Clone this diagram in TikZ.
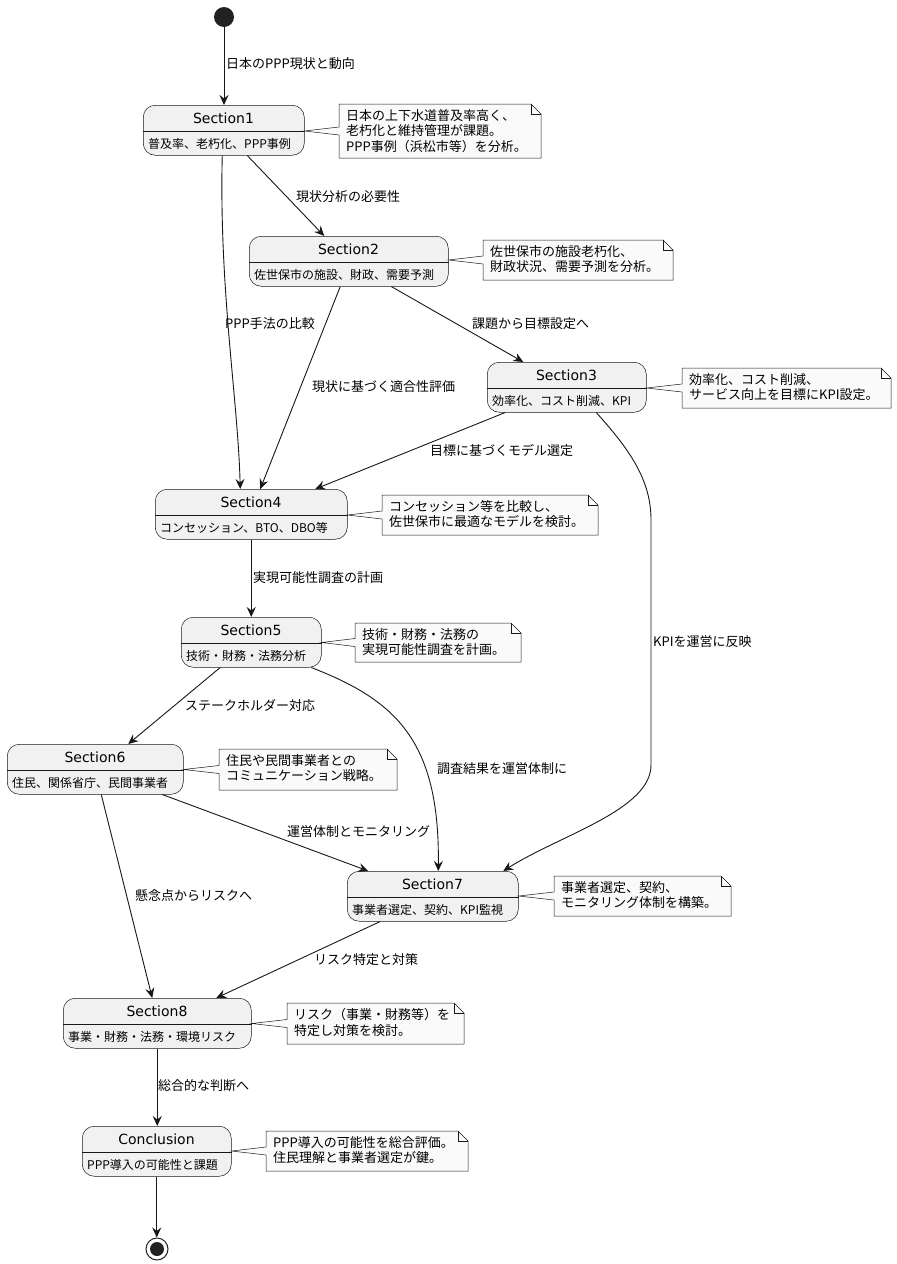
\documentclass[tikz,border=0pt]{standalone}
\usepackage{fontspec}
\setmainfont{DejaVu Sans}
\newfontfamily\jp{Noto Sans CJK JP}
\usetikzlibrary{arrows.meta}
\definecolor{cline}{RGB}{24,24,24}
\definecolor{cdot}{RGB}{34,34,34}
\definecolor{stfill}{RGB}{241,241,241}
\definecolor{ntfill}{RGB}{250,250,250}
\tikzset{
  stbox/.style={draw=cline, fill=stfill, line width=0.5pt, rounded corners=12pt, inner sep=0pt},
  stline/.style={draw=cline, line width=0.5pt},
  sttitle/.style={font=\fontsize{14}{16}\selectfont, inner sep=0pt},
  stdesc/.style={font=\jp\fontsize{12}{14}\selectfont, inner sep=0pt},
  notebox/.style={draw=cline, fill=ntfill, line width=0.5pt},
  notefold/.style={draw=cline, line width=0.5pt},
  notetext/.style={font=\jp\fontsize{13}{15.3}\selectfont, align=left, inner sep=0pt},
  lbl/.style={font=\jp\fontsize{13}{15}\selectfont, inner sep=0pt, anchor=west},
  arr/.style={draw=cline, line width=0.9pt, -{Stealth[length=10pt,width=9pt,inset=3.5pt]}},
}
\newcommand\mkstate[6]{%
  \node[stbox, minimum width={#3-#2}, minimum height=50, anchor=north west] (#1) at (#2,#4) {};
  \draw[stline] (#1.west |- 0,{#4+26}) -- (#1.east |- 0,{#4+26});
  \node[sttitle] (#1-t) at ({(#2+#3)/2},{#4+13.5}) {#5};
  \node[stdesc, anchor=west] (#1-d) at ({#2+5},{#4+38.5}) {#6};
}
\newcommand\mknote[7]{%
  \filldraw[notebox] (#2,#3) -- ({#4-10},#3) -- (#4,{#3+10}) -- (#4,#5) -- (#2,#5)
     -- (#2,{(#3+#5)/2+4}) -- (#6.east |- 0,{(#3+#5)/2}) -- (#2,{(#3+#5)/2-4}) -- cycle;
  \draw[notefold] ({#4-10},#3) -- ({#4-10},{#3+10}) -- (#4,{#3+10});
  \node[notetext, anchor=north west] (#1) at ({#2+7},{#3+5.5}) {#7};
}
\begin{document}
\begin{tikzpicture}[x=1pt,y=-1pt]
\fill[white] (0,0) rectangle (897,1264);
\path[use as bounding box] (0,0) rectangle (897,1264);

% start / end
\node[circle, fill=cdot, minimum size=20, inner sep=0pt] (start) at (224,17) {};
\node[circle, draw=cdot, line width=1pt, fill=white, minimum size=22, inner sep=0pt] (fin) at (157,1249) {};
\node[circle, fill=cdot, minimum size=14, inner sep=0pt] (finin) at (fin) {};

% states
\mkstate{s1}{143}{304}{105}{Section1}{普及率、老朽化、PPP事例}
\mkstate{s2}{249}{448}{236}{Section2}{佐世保市の施設、財政、需要予測}
\mkstate{s3}{487}{646}{362}{Section3}{効率化、コスト削減、KPI}
\mkstate{s4}{155}{347}{489}{Section4}{コンセッション、BTO、DBO等}
\mkstate{s5}{181}{321}{617}{Section5}{技術・財務・法務分析}
\mkstate{s6}{7}{183}{744}{Section6}{住民、関係省庁、民間事業者}
\mkstate{s7}{347}{518}{871}{Section7}{事業者選定、契約、KPI監視}
\mkstate{s8}{63}{251}{998}{Section8}{事業・財務・法務・環境リスク}
\mkstate{sc}{82}{231}{1126}{Conclusion}{PPP導入の可能性と課題}

% notes
\mknote{n1}{339}{104}{541}{158}{s1}{日本の上下水道普及率高く、\\老朽化と維持管理が課題。\\PPP事例（浜松市等）を分析。}
\mknote{n2}{483}{240}{673}{280}{s2}{佐世保市の施設老朽化、\\財政状況、需要予測を分析。}
\mknote{n3}{682}{368}{891}{408}{s3}{効率化、コスト削減、\\サービス向上を目標にKPI設定。}
\mknote{n4}{382}{495}{598}{535}{s4}{コンセッション等を比較し、\\佐世保市に最適なモデルを検討。}
\mknote{n5}{355}{623}{521}{662}{s5}{技術・財務・法務の\\実現可能性調査を計画。}
\mknote{n6}{219}{749}{397}{790}{s6}{住民や民間事業者との\\コミュニケーション戦略。}
\mknote{n7}{554}{876}{731}{916}{s7}{事業者選定、契約、\\モニタリング体制を構築。}
\mknote{n8}{287}{1003}{464}{1044}{s8}{リスク（事業・財務等）を\\特定し対策を検討。}
\mknote{n9}{266}{1131}{468}{1171}{sc}{PPP導入の可能性を総合評価。\\住民理解と事業者選定が鍵。}

% connectors
\draw[arr] (start.south) -- (start.south |- s1.north);
\draw[arr] ([xshift=23.5]s1.south) -- ([xshift=-24.5]s2.north);
\draw[arr] ([xshift=-1.5]s1.south) .. controls (219,290) and (238,400) .. ([xshift=-11]s4.north);
\draw[arr] ([xshift=-8.5]s2.south) -- ([xshift=9]s4.north);
\draw[arr] ([xshift=42.5]s2.south) -- ([xshift=-43.5]s3.north);
\draw[arr] ([xshift=-61.5]s3.south) -- ([xshift=64]s4.north);
\draw[arr] ([xshift=29.5]s3.south) .. controls (630,450) and (651,480) .. (651,520)
   -- (651,765) .. controls (651,810) and (560,835) .. ([xshift=70.5]s7.north);
\draw[arr] (s4.south) -- (s5.north);
\draw[arr] ([xshift=-31]s5.south) -- ([xshift=33]s6.north);
\draw[arr] ([xshift=60]s5.south) .. controls (395,700) and (440,740) .. ([xshift=5.5]s7.north);
\draw[arr] ([xshift=67]s6.south) -- ([xshift=-64.5]s7.north);
\draw[arr] ([xshift=6]s6.south) -- ([xshift=-5]s8.north);
\draw[arr] ([xshift=-52.5]s7.south) -- ([xshift=59]s8.north);
\draw[arr] (s8.south) -- (s8.south |- sc.north);
\draw[arr] (sc.south) -- (sc.south |- fin.north);

% labels
\node[lbl] (l1) at (226,64) {日本のPPP現状と動向};
\node[lbl] (l2) at (296,197) {現状分析の必要性};
\node[lbl] (l3) at (225,324) {PPP手法の比較};
\node[lbl] (l4) at (312,387) {現状に基づく適合性評価};
\node[lbl] (l5) at (472,324) {課題から目標設定へ};
\node[lbl] (l6) at (430,451) {目標に基づくモデル選定};
\node[lbl] (l7) at (653,642) {KPIを運営に反映};
\node[lbl] (l8) at (253,578) {実現可能性調査の計画};
\node[lbl] (l9) at (185,706) {ステークホルダー対応};
\node[lbl] (l10) at (437,769) {調査結果を運営体制に};
\node[lbl] (l11) at (287,832) {運営体制とモニタリング};
\node[lbl] (l12) at (135,896) {懸念点からリスクへ};
\node[lbl] (l13) at (314,960) {リスク特定と対策};
\node[lbl] (l14) at (158,1086) {総合的な判断へ};
\end{tikzpicture}
\end{document}
